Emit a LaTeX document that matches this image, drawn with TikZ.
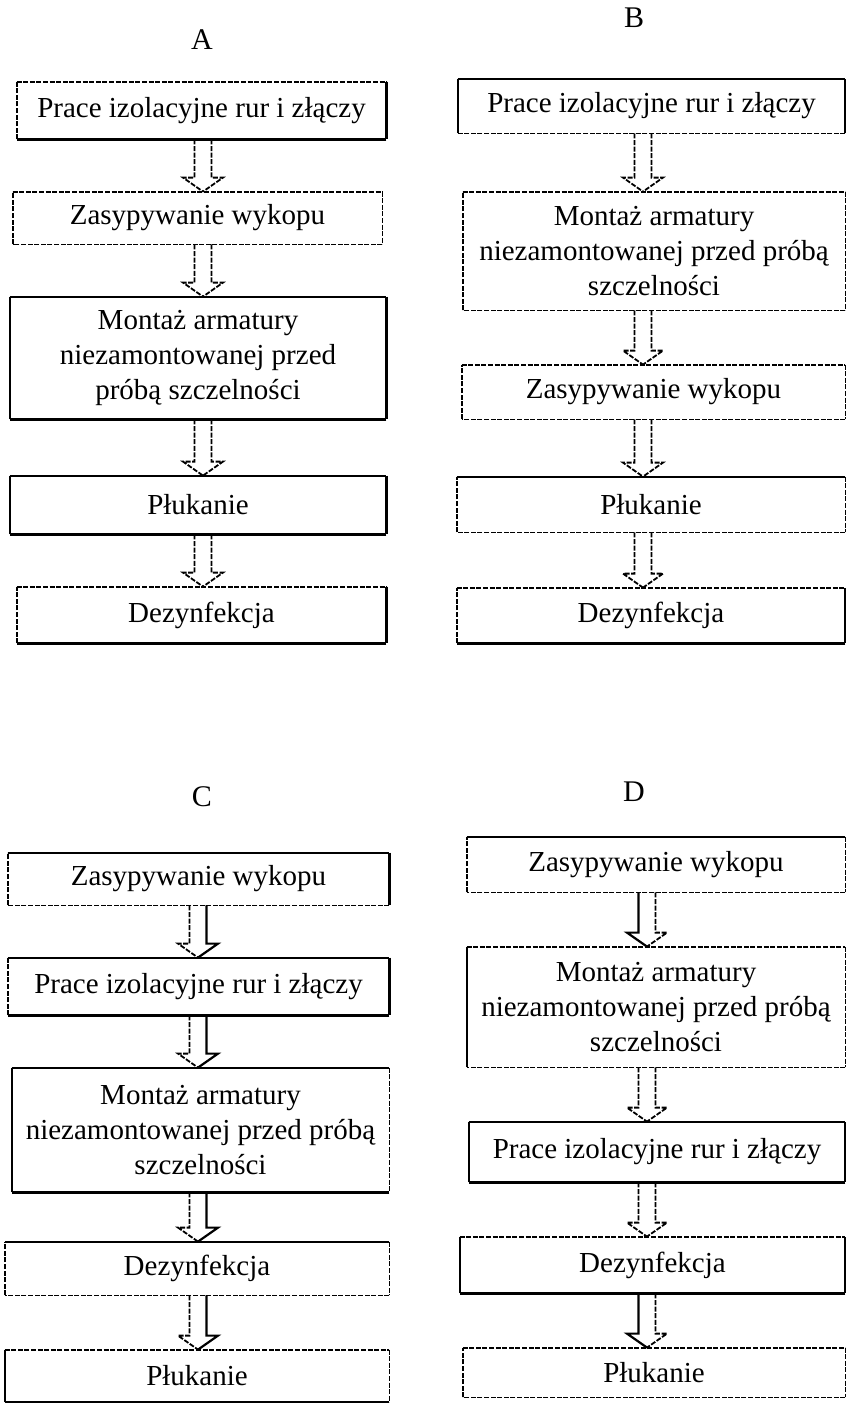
\documentclass[tikz,border=0pt]{standalone}
\usepackage{fontspec}
\setmainfont{Liberation Serif}
\usetikzlibrary{calc}
\tikzset{
  stagebox/.style={rectangle, inner sep=0pt, align=center, font=\fontsize{14.5}{17.5}\selectfont},
  variant/.style={font=\fontsize{15}{18}\selectfont},
  sol/.style={line width=1.1pt},
  das/.style={line width=0.9pt, dash pattern=on 2.5pt off 0.8pt},
}
% sides of a box: top, right, bottom, left
\newcommand{\boxsides}[5]{%
  \draw[#2] (#1.north west) -- (#1.north east);
  \draw[#3] (#1.north east) -- (#1.south east);
  \draw[#4] (#1.south east) -- (#1.south west);
  \draw[#5] (#1.south west) -- (#1.north west);}
% hollow double arrow: from, to, axis, left style, right style
\newcommand{\hollowarrow}[5]{%
  \coordinate (s) at (#1.south -| #3);
  \coordinate (t) at (#2.north -| #3);
  \draw[#4] ($(s)+(-8.5,0)$) -- ($(t)+(-8.5,-14)$) -- ($(t)+(-20,-14)$) -- (t);
  \draw[#5] ($(s)+(8.5,0)$) -- ($(t)+(8.5,-14)$) -- ($(t)+(20,-14)$) -- (t);}
\begin{document}
\begin{tikzpicture}[x=0.5pt, y=-0.5pt, line join=miter]
  \useasboundingbox (0,0) rectangle (846,1403);

  \coordinate (axA) at (203,0);
  \coordinate (axB) at (643,0);
  \coordinate (axC) at (198,0);
  \coordinate (axD) at (647,0);

  % A
  \node[variant] (tA) at (202,40) {A};
  \node[stagebox, minimum width=184.5pt, minimum height=28.5pt] (a1) at (201.5,110.5) {Prace izolacyjne rur i złączy};
  \node[stagebox, minimum width=184.5pt, minimum height=26pt] (a2) at (197.5,218) {Zasypywanie wykopu};
  \node[stagebox, minimum width=188pt, minimum height=61pt] (a3) at (198,358) {Montaż armatury\\niezamontowanej przed\\próbą szczelności};
  \node[stagebox, minimum width=188pt, minimum height=29pt] (a4) at (198,505) {Płukanie};
  \node[stagebox, minimum width=184.5pt, minimum height=28pt] (a5) at (201.5,615) {Dezynfekcja};
  \boxsides{a1}{das}{sol}{sol}{das}
  \boxsides{a2}{das}{das}{das}{das}
  \boxsides{a3}{sol}{sol}{sol}{sol}
  \boxsides{a4}{sol}{sol}{sol}{sol}
  \boxsides{a5}{das}{sol}{sol}{das}
  \hollowarrow{a1}{a2}{axA}{das}{das}
  \hollowarrow{a2}{a3}{axA}{das}{das}
  \hollowarrow{a3}{a4}{axA}{das}{das}
  \hollowarrow{a4}{a5}{axA}{das}{das}

  % B
  \node[variant] (tB) at (634,18) {B};
  \node[stagebox, minimum width=193.5pt, minimum height=27pt] (b1) at (651.5,106) {Prace izolacyjne rur i złączy};
  \node[stagebox, minimum width=191pt, minimum height=59pt] (b2) at (654,251) {Montaż armatury\\niezamontowanej przed próbą\\szczelności};
  \node[stagebox, minimum width=191.5pt, minimum height=27pt] (b3) at (653.5,392) {Zasypywanie wykopu};
  \node[stagebox, minimum width=194pt, minimum height=27.5pt] (b4) at (651,504.5) {Płukanie};
  \node[stagebox, minimum width=194pt, minimum height=27.5pt] (b5) at (651,615.5) {Dezynfekcja};
  \boxsides{b1}{sol}{sol}{das}{sol}
  \boxsides{b2}{das}{das}{das}{das}
  \boxsides{b3}{das}{das}{das}{das}
  \boxsides{b4}{sol}{das}{das}{das}
  \boxsides{b5}{das}{sol}{sol}{das}
  \hollowarrow{b1}{b2}{axB}{das}{das}
  \hollowarrow{b2}{b3}{axB}{das}{das}
  \hollowarrow{b3}{b4}{axB}{das}{das}
  \hollowarrow{b4}{b5}{axB}{das}{das}

  % C
  \node[variant] (tC) at (202,797) {C};
  \node[stagebox, minimum width=190.5pt, minimum height=26pt] (c1) at (198.5,879) {Zasypywanie wykopu};
  \node[stagebox, minimum width=190.5pt, minimum height=28.5pt] (c2) at (198.5,986.5) {Prace izolacyjne rur i złączy};
  \node[stagebox, minimum width=188.5pt, minimum height=62pt] (c3) at (200.5,1130) {Montaż armatury\\niezamontowanej przed próbą\\szczelności};
  \node[stagebox, minimum width=192pt, minimum height=26.5pt] (c4) at (197,1268.5) {Dezynfekcja};
  \node[stagebox, minimum width=192pt, minimum height=26pt] (c5) at (197,1376) {Płukanie};
  \boxsides{c1}{sol}{sol}{das}{das}
  \boxsides{c2}{sol}{sol}{sol}{das}
  \boxsides{c3}{sol}{das}{sol}{sol}
  \boxsides{c4}{sol}{das}{das}{das}
  \boxsides{c5}{das}{das}{sol}{sol}
  \hollowarrow{c1}{c2}{axC}{das}{sol}
  \hollowarrow{c2}{c3}{axC}{das}{sol}
  \hollowarrow{c3}{c4}{axC}{das}{sol}
  \hollowarrow{c4}{c5}{axC}{das}{sol}

  % D
  \node[variant] (tD) at (634,792) {D};
  \node[stagebox, minimum width=189pt, minimum height=27.5pt] (d1) at (656,864.5) {Zasypywanie wykopu};
  \node[stagebox, minimum width=189pt, minimum height=60pt] (d2) at (656,1007) {Montaż armatury\\niezamontowanej przed próbą\\szczelności};
  \node[stagebox, minimum width=188pt, minimum height=30pt] (d3) at (657,1152) {Prace izolacyjne rur i złączy};
  \node[stagebox, minimum width=192.5pt, minimum height=28pt] (d4) at (652.5,1265) {Dezynfekcja};
  \node[stagebox, minimum width=191pt, minimum height=24.5pt] (d5) at (654,1372.5) {Płukanie};
  \boxsides{d1}{sol}{das}{das}{das}
  \boxsides{d2}{das}{das}{das}{sol}
  \boxsides{d3}{sol}{sol}{sol}{sol}
  \boxsides{d4}{das}{sol}{sol}{sol}
  \boxsides{d5}{das}{das}{das}{das}
  \hollowarrow{d1}{d2}{axD}{sol}{das}
  \hollowarrow{d2}{d3}{axD}{das}{das}
  \hollowarrow{d3}{d4}{axD}{das}{das}
  \hollowarrow{d4}{d5}{axD}{sol}{das}
\end{tikzpicture}
\end{document}
